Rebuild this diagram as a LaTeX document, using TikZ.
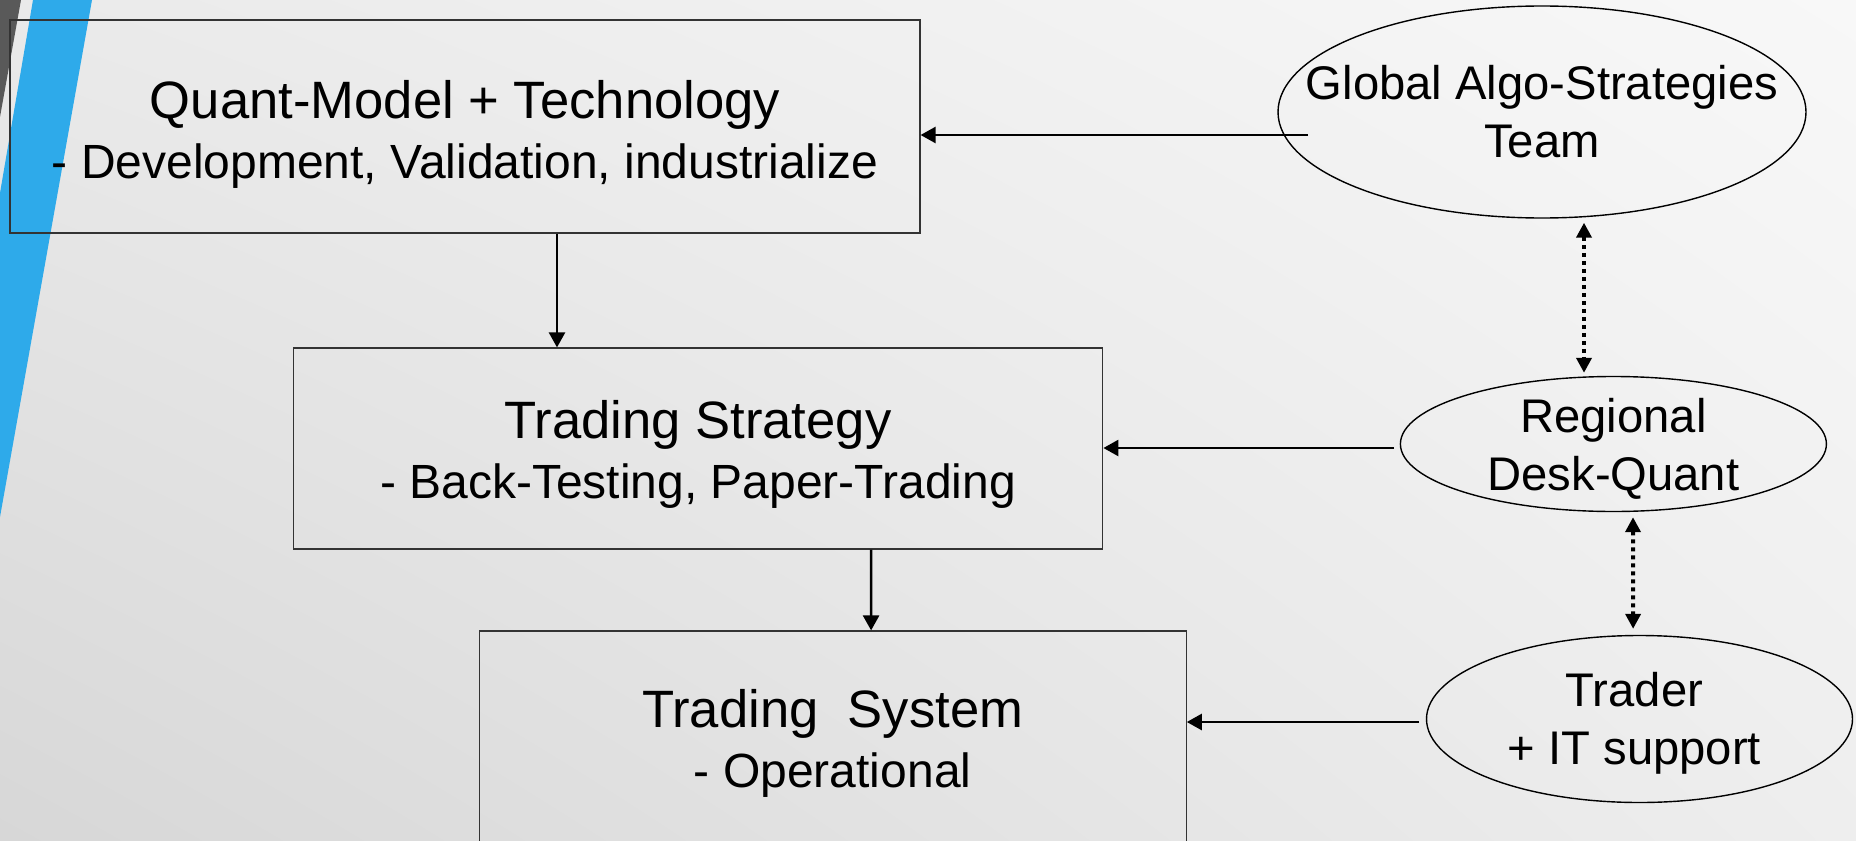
\documentclass[tikz,border=0pt]{standalone}
\usepackage{fontspec}
\setmainfont{Liberation Sans}
\usetikzlibrary{shapes.geometric,arrows.meta,shadings}
\definecolor{stripeblue}{RGB}{46,170,234}
\definecolor{stripegray}{RGB}{89,89,89}
\definecolor{bgul}{RGB}{234,234,234}
\definecolor{bgur}{RGB}{248,248,248}
\definecolor{bgll}{RGB}{215,215,215}
\definecolor{bglr}{RGB}{238,238,238}
\newcommand{\subline}{\fontsize{24pt}{30pt}\selectfont}

\begin{document}
\begin{tikzpicture}[x=0.5pt,y=-0.5pt,
  box/.style={draw=black!80,line width=0.6pt,rectangle},
  btext/.style={align=center,font=\fontsize{26.3pt}{30pt}\selectfont},
  oval/.style={draw,line width=0.7pt,ellipse,inner sep=0pt},
  otext/.style={align=center,font=\fontsize{23.6pt}{29pt}\selectfont},
  arr/.style={line width=1.25pt,-{Triangle[length=7.5pt,width=8pt]}},
  darr/.style={line width=2pt,dash pattern=on 2pt off 2pt,{Triangle[length=7.5pt,width=7.5pt]}-{Triangle[length=7.5pt,width=7.5pt]}}]
  \useasboundingbox (0,0) rectangle (1856,840);
  \clip (0,0) rectangle (1856,840);
  \shade[upper left=bgul,upper right=bgur,lower left=bgll,lower right=bglr] (0,0) rectangle (1856,840);
  \fill[stripegray] (0,0) -- (21,0) -- (0,117) -- cycle;
  \fill[stripeblue] (33,0) -- (92,0) -- (0,517) -- (0,193) -- cycle;

  \node[box,minimum width=455pt,minimum height=106.5pt] (quant) at (465,126.5) {};
  \node[btext] (quanttxt) at ([yshift=-4pt]quant) {Quant-Model + Technology\\\subline - Development, Validation, industrialize};
  \node[box,minimum width=404.8pt,minimum height=100.5pt] (strategy) at (698,448.5) {};
  \node[btext] (strategytxt) at ([yshift=-3pt]strategy) {Trading Strategy\\\subline - Back-Testing, Paper-Trading};
  \node[box,minimum width=353.5pt,minimum height=109pt] (system) at (832.7,740) {};
  \node[btext] (systemtxt) at ([yshift=-1.7pt]system) {Trading\ \ System\\\subline - Operational};

  \node[oval,minimum width=264pt,minimum height=106pt] (global) at (1542,112) {};
  \node[otext] (globaltxt) at (global) {Global Algo-Strategies\\Team};
  \node[oval,minimum width=213pt,minimum height=67.5pt] (regional) at (1613.4,444) {};
  \node[otext] (regionaltxt) at ([yshift=-2.5pt]regional) {Regional\\Desk-Quant};
  \node[oval,minimum width=213pt,minimum height=83.5pt] (trader) at (1639.5,719) {};
  \node[otext] (tradertxt) at ([xshift=-2.5pt,yshift=-2pt]trader) {Trader\\+ IT support};

  \coordinate (gstart) at (1308,135);
  \coordinate (rstart) at (1394,448);
  \coordinate (tstart) at (1419,722);
  \draw[arr] (gstart) -- (gstart -| quant.east);
  \draw[arr] (rstart) -- (rstart -| strategy.east);
  \draw[arr] (tstart) -- (tstart -| system.east);
  \draw[arr] ([xshift=46pt]quant.south) -- ([xshift=-70.5pt]strategy.north);
  \draw[arr] ([xshift=86.5pt]strategy.south) -- ([xshift=19.2pt]system.north);
  \draw[darr] ([xshift=21pt,yshift=-2pt]global.south) -- ([xshift=-14.7pt,yshift=1.5pt]regional.north);
  \draw[darr] ([xshift=9.8pt,yshift=-2.5pt]regional.south) -- ([xshift=-3.2pt,yshift=3pt]trader.north);
\end{tikzpicture}
\end{document}
